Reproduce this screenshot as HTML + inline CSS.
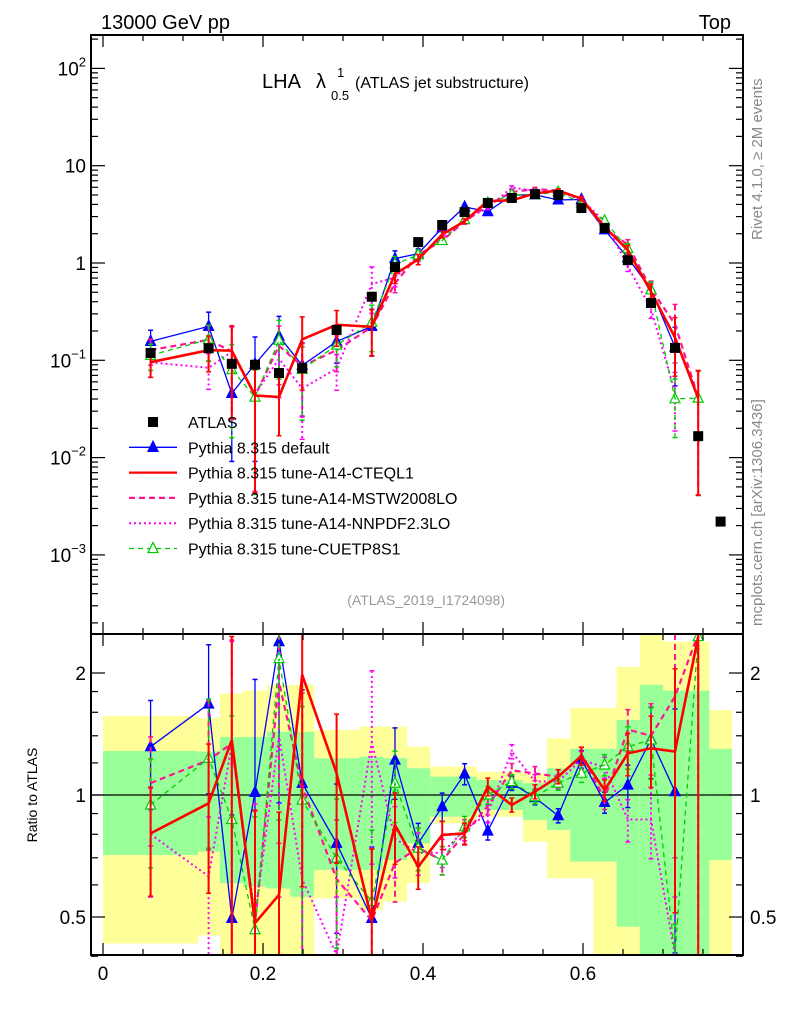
<!DOCTYPE html>
<html><head><meta charset="utf-8"><style>
html,body{margin:0;padding:0;background:#fff;overflow:hidden;width:786px;height:1024px;}
svg{display:block;font-family:"Liberation Sans",sans-serif;}
</style></head><body>
<svg id="c" width="786" height="1024" viewBox="0 0 786 1024" xmlns="http://www.w3.org/2000/svg">
<defs>
<clipPath id="cm"><rect x="91" y="35" width="652" height="599"/></clipPath>
<clipPath id="cr"><rect x="91" y="634" width="652" height="321"/></clipPath>
</defs>
<g id="bands" clip-path="url(#cr)"></g>
<g id="mainMarks" clip-path="url(#cm)"></g>
<g id="ratioMarks" clip-path="url(#cr)"></g>
<g id="axes"></g>
<text x="101" y="29" font-size="20">13000 GeV pp</text>
<text x="731" y="29" font-size="20" text-anchor="end">Top</text>
<g>
<text x="262" y="88" font-size="20">LHA</text>
<text x="316" y="88" font-size="20">λ</text>
<text x="331" y="100" font-size="13">0.5</text>
<text x="337" y="77" font-size="13">1</text>
<text x="355" y="88" font-size="16">(ATLAS jet substructure)</text>
</g>
<text transform="translate(762,240) rotate(-90)" font-size="15" fill="#888">Rivet 4.1.0, ≥ 2M events</text>
<text transform="translate(762,626) rotate(-90)" font-size="15" fill="#888">mcplots.cern.ch [arXiv:1306.3436]</text>
<text x="505" y="605" font-size="14" fill="#999" text-anchor="end">(ATLAS_2019_I1724098)</text>
<text transform="translate(37,795) rotate(-90)" font-size="14" text-anchor="middle">Ratio to ATLAS</text>
<g id="legend"></g>
</svg>
<script>
const edges=[0,0.119,0.146,0.175,0.205,0.234,0.264,0.32,0.35,0.38,0.409,0.438,0.467,0.496,0.525,0.555,0.584,0.613,0.642,0.671,0.70,0.729,0.758,0.786];
const centers=[0.0595,0.132,0.161,0.19,0.22,0.249,0.292,0.336,0.365,0.394,0.424,0.452,0.481,0.511,0.54,0.569,0.598,0.627,0.656,0.685,0.715,0.744,0.772];
const atlasValues=[0.119,0.133,0.092,0.09,0.074,0.083,0.205,0.45,0.91,1.64,2.46,3.34,4.14,4.66,5.1,5.0,3.67,2.29,1.07,0.388,0.134,0.0166,0.0022];
const ratioDefault=[1.316,1.677,0.496,1.015,2.39,1.069,0.76,0.496,1.22,0.76,0.936,1.127,0.815,1.069,0.985,0.889,1.225,0.959,1.058,1.372,1.019,null];
const ratioCTEQ=[0.804,0.954,1.367,0.483,0.567,1.98,1.131,0.491,0.843,0.665,0.797,0.804,1.048,0.945,1.019,1.11,1.248,1.028,1.267,1.304,1.28,2.46];
const ratioMSTW=[1.07,1.22,1.34,0.48,1.9,1.05,0.62,0.49,0.68,0.74,0.69,0.80,0.94,1.15,1.13,1.11,1.25,0.98,1.45,1.40,1.75,2.5];
const ratioNNPDF=[0.80,0.63,1.33,0.5,1.4,0.62,0.4,1.35,0.78,0.72,0.72,0.82,0.9,1.28,1.08,1.08,1.22,1.17,0.87,0.87,0.35,null];
const ratioCUETP=[0.945,1.232,0.87,0.465,2.17,0.972,0.698,0.546,1.069,0.739,0.691,0.835,1.0,1.079,0.99,1.07,1.131,1.186,1.316,1.367,0.3,2.46];
const mcRelErr=[0.3,0.4,0.8,0.9,0.6,0.7,0.4,0.5,0.2,0.12,0.08,0.06,0.05,0.04,0.04,0.04,0.05,0.06,0.12,0.2,0.6,0.9];
const yellowUp=[1.567,1.55,1.78,1.81,1.87,1.87,1.446,1.474,1.474,1.316,1.175,1.175,1.141,1.141,1.131,1.38,1.64,1.64,2.07,2.48,2.39,2.39,1.62];
const yellowDn=[0.43,0.45,0.3,0.3,0.3,0.3,0.556,0.52,0.546,0.606,0.851,0.851,0.884,0.884,0.767,0.623,0.623,0.3,0.3,0.3,0.3,0.3,0.3];
const greenUp=[1.284,1.28,1.39,1.39,1.433,1.433,1.232,1.243,1.232,1.164,1.11,1.11,1.089,1.089,1.069,1.164,1.30,1.30,1.53,1.87,1.81,1.81,1.30];
const greenDn=[0.711,0.725,0.606,0.594,0.588,0.561,0.653,0.653,0.691,0.76,0.884,0.884,0.918,0.918,0.868,0.82,0.685,0.685,0.473,0.3,0.3,0.3,0.691];
const mainTickExps=[-3,-2,-1,0,1,2];
const xTickLabels=["0","0.2","0.4","0.6"];
const ratioTickLabels=["0.5","1","2"];

const NS="http://www.w3.org/2000/svg";
const X=v=>103+800*v;
const YM=v=>263-97.3*Math.log10(v);
const YR=r=>795-122*Math.log2(r);
function mk(tag,attrs,parent){const e=document.createElementNS(NS,tag);for(const k in attrs)e.setAttribute(k,attrs[k]);parent.appendChild(e);return e;}
const bands=document.getElementById('bands'),mm=document.getElementById('mainMarks'),rm=document.getElementById('ratioMarks'),ax=document.getElementById('axes'),lg=document.getElementById('legend');

for(let i=0;i<centers.length;i++){
  const x0=X(edges[i]),w=Math.min(X(edges[i+1]),743)-x0;
  const yt=YR(yellowUp[i]),yb=Math.min(YR(yellowDn[i]),955);
  const y=mk('rect',{x:x0,y:yt,width:w,height:yb-yt,fill:'#ffff99'},bands);
  
  
  const gt=YR(greenUp[i]),gb=Math.min(YR(greenDn[i]),955);
  const g=mk('rect',{x:x0,y:gt,width:w,height:gb-gt,fill:'#99ff99'},bands);
  
  
}
const one=mk('line',{x1:91,x2:743,y1:YR(1),y2:YR(1),stroke:'#000','stroke-width':1.2},rm);



const series=[
 {name:'pythia-default',r:ratioDefault,color:'#0000ff',w:1.3,dash:'',marker:'ftri'},
 {name:'pythia-a14-mstw2008lo',r:ratioMSTW,color:'#ff1493',w:2.2,dash:'6,4',marker:''},
 {name:'pythia-a14-nnpdf23lo',r:ratioNNPDF,color:'#ff00ff',w:2,dash:'2,3',marker:''},
 {name:'pythia-cuetp8s1',r:ratioCUETP,color:'#00cc00',w:1.3,dash:'5,4',marker:'otri'},
 {name:'pythia-a14-cteql1',r:ratioCTEQ,color:'#ff0000',w:2.6,dash:'',marker:''}
];
function drawSeries(s,g,ratioMode){
  const top=ratioMode?634:35,bot=ratioMode?955:634;
  const cl=y=>Math.max(top,Math.min(bot,y));
  let pts=[];
  for(let i=0;i<s.r.length;i++){
    const r=s.r[i]; if(r==null) continue;
    const v=ratioMode?r:r*atlasValues[i];
    const F=ratioMode?YR:YM;
    const x=X(centers[i]),y=F(v);
    pts.push(x+','+cl(y));
    const lo=v*(1-mcRelErr[i]),hi=v*(1+mcRelErr[i]);
    const ylo=lo>0?cl(F(lo)):bot;
    const eb=mk('line',{x1:x,x2:x,y1:cl(F(hi)),y2:ylo,stroke:s.color,'stroke-width':Math.min(s.w,2),'stroke-dasharray':s.dash},g);
    
    
    mk('line',{x1:x-2.5,x2:x+2.5,y1:cl(F(hi)),y2:cl(F(hi)),stroke:s.color,'stroke-width':1.5},g);
    if(lo>0)mk('line',{x1:x-2.5,x2:x+2.5,y1:ylo,y2:ylo,stroke:s.color,'stroke-width':1.5},g);
    if(s.marker&&y>=top&&y<=bot){
      const t=mk('polygon',{points:`${x},${y-6} ${x-5},${y+4} ${x+5},${y+4}`,fill:s.marker=='ftri'?s.color:'#fff',stroke:s.color,'stroke-width':1.2},g);
      
      
    }
  }
  const pl=mk('polyline',{points:pts.join(' '),fill:'none',stroke:s.color,'stroke-width':s.w,'stroke-dasharray':s.dash},g);
  
  
}
series.forEach(s=>{drawSeries(s,mm,false);drawSeries(s,rm,true);});
for(let i=0;i<atlasValues.length;i++){
  const x=X(centers[i]),y=YM(atlasValues[i]);
  const sq=mk('rect',{x:x-5,y:y-5,width:10,height:10,fill:'#000'},mm);
  
  
}

const f1=mk('rect',{x:91,y:35,width:652,height:599,fill:'none',stroke:'#000','stroke-width':2},ax);


const f2=mk('rect',{x:91,y:634,width:652,height:321,fill:'none',stroke:'#000','stroke-width':2},ax);


for(let k=0;k<=16;k++){
  const v=k*0.05,x=X(v);if(x>742)break;
  const L=(k%4==0)?12:6;
  [[35,1],[634,-1],[634,1],[955,-1]].forEach(([y0,d])=>mk('line',{x1:x,x2:x,y1:y0,y2:y0+d*L,stroke:'#000','stroke-width':1.2},ax));
}
xTickLabels.forEach((lab,i)=>{const t=mk('text',{x:X(i*0.2),y:980,'font-size':19,'text-anchor':'middle'},ax);t.textContent=lab;
  
  });
for(let e=-4;e<=2;e++){for(let m=1;m<10;m++){const v=m*Math.pow(10,e),y=YM(v);if(y<36||y>633)continue;const L=m==1?14:7;
  mk('line',{x1:91,x2:91+L,y1:y,y2:y,stroke:'#000','stroke-width':1.2},ax);mk('line',{x1:743,x2:743-L,y1:y,y2:y,stroke:'#000','stroke-width':1.2},ax);}}
mainTickExps.forEach(e=>{const y=YM(Math.pow(10,e));const t=mk('text',{x:86,y:y+7,'font-size':19,'text-anchor':'end'},ax);
  if(e==0)t.textContent='1';else if(e==1)t.textContent='10';else{t.textContent='10';const s=mk('tspan',{dy:-9,'font-size':13},t);s.textContent=String(e).replace('-','−');}
  
  });
[0.4,0.5,0.6,0.7,0.8,0.9,1,1.2,1.4,1.6,1.8,2].forEach(r=>{const y=YR(r);const L=(r==0.5||r==1||r==2)?14:7;
  mk('line',{x1:91,x2:91+L,y1:y,y2:y,stroke:'#000','stroke-width':1.2},ax);mk('line',{x1:743,x2:743-L,y1:y,y2:y,stroke:'#000','stroke-width':1.2},ax);});
ratioTickLabels.forEach(l=>{const y=YR(parseFloat(l))+7;
  const a=mk('text',{x:86,y:y,'font-size':19,'text-anchor':'end'},ax);a.textContent=l;
  
  
  const b=mk('text',{x:750,y:y,'font-size':19},ax);b.textContent=l;
  
  });

const legendLabels=["ATLAS","Pythia 8.315 default","Pythia 8.315 tune-A14-CTEQL1","Pythia 8.315 tune-A14-MSTW2008LO","Pythia 8.315 tune-A14-NNPDF2.3LO","Pythia 8.315 tune-CUETP8S1"];
const legSty=[null,series[0],series[4],series[1],series[2],series[3]];
legendLabels.forEach((lab,i)=>{
  const y=422+i*25.3;
  const g=mk('g',{},lg);
  
  
  const s=legSty[i];
  if(!s)mk('rect',{x:148,y:y-5,width:10,height:10,fill:'#000'},g);
  else{mk('line',{x1:129,x2:177,y1:y,y2:y,stroke:s.color,'stroke-width':Math.min(s.w,2.2),'stroke-dasharray':s.dash},g);
    if(s.marker)mk('polygon',{points:`153,${y-6} 148,${y+4} 158,${y+4}`,fill:s.marker=='ftri'?s.color:'#fff',stroke:s.color,'stroke-width':1.3},g);}
  const t=mk('text',{x:188,y:y+6,'font-size':16},g);t.textContent=lab;
});
</script>
</body></html>
